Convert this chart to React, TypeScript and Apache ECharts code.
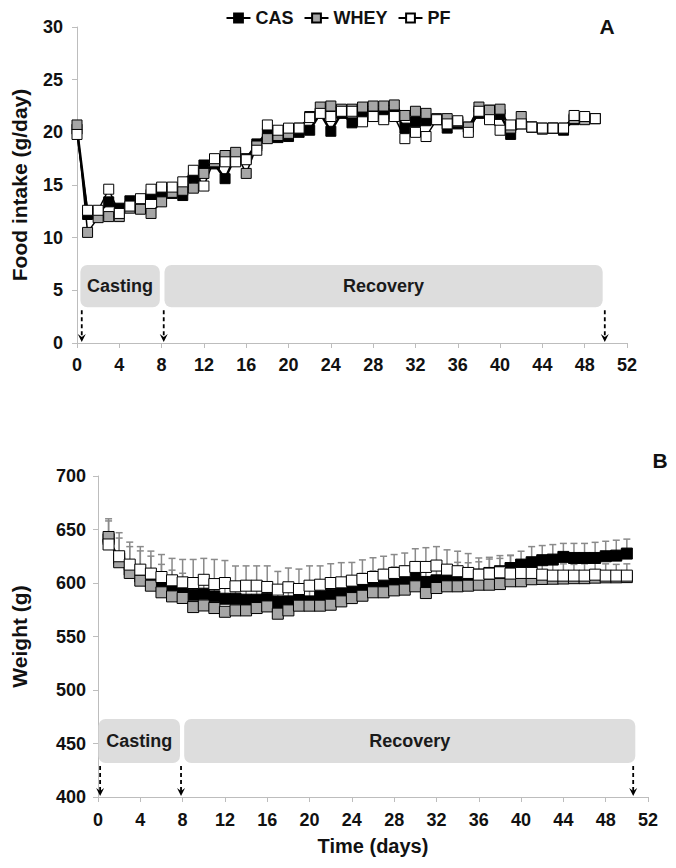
import React, { useEffect, useRef } from 'react';
import * as echarts from 'echarts';

const FONT = '"Liberation Sans", Arial, Helvetica, sans-serif';

// ---------- Panel A: food intake (g/day), days 0..49 ----------
const daysA = [0, 1, 2, 3, 4, 5, 6, 7, 8, 9, 10, 11, 12, 13, 14, 15, 16, 17, 18, 19, 20, 21, 22, 23, 24, 25, 26, 27, 28, 29, 30, 31, 32, 33, 34, 35, 36, 37, 38, 39, 40, 41, 42, 43, 44, 45, 46, 47, 48, 49];
const casA = [20.3, 12.2, 12.3, 13.4, 12.8, 13.5, 13.3, 14.1, 14.1, 14.2,
  14.0, 15.7, 16.9, 17.0, 15.6, 17.8, 17.5, 18.9, 19.9, 19.5,
  19.6, 20.0, 20.2, 21.8, 20.1, 21.8, 20.9, 21.7, 21.8, 21.8,
  21.8, 20.4, 21.0, 21.1, 21.2, 20.4, 20.8, 20.5, 21.8, 22.1,
  21.7, 19.8, 20.8, 20.5, 20.4, 20.4, 20.2, 21.2, 21.3, 21.3];
const wheyA = [20.7, 10.5, 11.9, 12.0, 12.0, 12.8, 12.7, 12.3, 13.4, 14.3,
  14.5, 14.7, 16.1, 17.2, 17.8, 18.1, 16.1, 18.7, 19.4, 19.7,
  19.9, 20.4, 21.5, 22.4, 22.5, 22.2, 22.2, 22.4, 22.5, 22.5,
  22.6, 21.6, 22.0, 21.8, 21.3, 21.3, 21.0, 20.5, 22.4, 22.1,
  22.2, 20.4, 21.5, 20.5, 20.3, 20.4, 20.4, 21.3, 21.2, 21.3];
const pfA = [19.8, 12.6, 12.6, 14.6, 12.3, 13.0, 13.7, 14.6, 14.8, 14.8,
  15.3, 16.4, 14.9, 17.5, 17.2, 17.2, 17.4, 18.3, 20.7, 20.2,
  20.4, 20.4, 21.4, 21.8, 21.5, 22.0, 22.0, 21.0, 21.5, 21.2,
  21.5, 19.4, 20.0, 19.6, 21.2, 20.8, 21.1, 20.0, 22.0, 21.2,
  20.2, 20.7, 20.8, 20.5, 20.4, 20.4, 20.4, 21.6, 21.5, 21.3];

// ---------- Panel B: weight (g), days 1..50 ----------
const daysB = [1, 2, 3, 4, 5, 6, 7, 8, 9, 10, 11, 12, 13, 14, 15, 16, 17, 18, 19, 20, 21, 22, 23, 24, 25, 26, 27, 28, 29, 30, 31, 32, 33, 34, 35, 36, 37, 38, 39, 40, 41, 42, 43, 44, 45, 46, 47, 48, 49, 50];
const casB = [641, 623, 612.5, 606, 601.6, 598.4, 595.3, 593.1, 589, 590,
  587.5, 585.3, 585.3, 584.4, 584.4, 585.3, 582.2, 582.8, 584.4, 582.8,
  587.5, 589, 590.6, 594.4, 596.9, 598.4, 600.6, 603, 604, 606.9,
  601, 602.5, 604.7, 606.3, 606.9, 607.8, 609.4, 611, 614, 617.2,
  619.4, 621.3, 621.9, 624.4, 623.4, 623.4, 623.4, 625, 625.6, 627.5];
const wheyB = [643, 619.4, 609.4, 602.2, 597.5, 591.3, 587.5, 586, 577.5, 579,
  576.6, 573.1, 574.4, 574.4, 576.6, 578.1, 571.3, 574.4, 578.8, 578.8,
  578.8, 579.7, 582.8, 585.9, 588.1, 591.3, 591.3, 593.1, 593.8, 596.9,
  590.6, 595.3, 596.9, 596.9, 597.5, 598.4, 598.4, 599, 601.6, 601.6,
  603.5, 603.8, 604, 604.2, 604.5, 604.5, 605, 605.3, 605.3, 605.5];
const pfB = [636, 625, 617.2, 612.5, 608.8, 605.6, 602.5, 600.6, 600, 603,
  599, 600, 596.9, 597.5, 597.5, 596.3, 593.8, 596, 594.4, 597.5,
  598.4, 600, 600.6, 602.2, 603.8, 605.6, 607.8, 609.4, 611, 615,
  615, 616.3, 612.5, 611, 609.4, 607.8, 608.8, 610, 608.8, 609.4,
  609.4, 607.8, 606.9, 606.9, 606.9, 606.9, 607.8, 606.9, 606.9, 606.9];
const pfSemB = [24, 22, 21, 21.5, 21, 21, 20.5, 21.4, 22, 20,
  23, 21, 19, 18.5, 18.5, 19.7, 17, 18, 18.6, 18.5,
  17.6, 18, 18.4, 17, 17.8, 18, 17.2, 17.2, 17, 17,
  18, 17.7, 18.5, 18.7, 18.1, 15.6, 15.2, 15.6, 16.8, 11,
  11.5, 10.5, 11, 11, 10.5, 11, 11.5, 11, 10.5, 11];
const casSemB = [17, 19, 21.5, 24, 23.5, 19, 16.7, 16, 13, 12,
  12, 13, 12, 12, 13, 12, 12, 12, 13, 12,
  12, 12, 13, 12, 12, 13, 12, 12, 12, 13,
  12, 12, 12, 13, 12, 12, 13, 12, 12, 12.5,
  14.6, 13.7, 14, 12.6, 13.6, 13.6, 14.6, 14, 14.4, 13.5];

// ---------- Phases and arrows ----------
const phaseLabels = ['Casting', 'Recovery'];
const phaseStartA = [0.32, 8.27];
const phaseEndA = [7.83, 49.7];
const phaseStartB = [0.05, 8.15];
const phaseEndB = [7.75, 50.8];
const arrowDaysA = [0.45, 8.2, 49.9];
const arrowDaysB = [0.2, 7.85, 50.6];
const xTicks = [0, 52, 4];

const BOX_A = [3.4, 7.4];
const BOX_B = [431.8, 472.9];

function boxRenderer(params: any, api: any) {
  const a = api.coord([api.value(0), api.value(3)]);
  const b = api.coord([api.value(1), api.value(2)]);
  return {
    type: 'group',
    children: [
      { type: 'rect', shape: { x: a[0], y: a[1], width: b[0] - a[0], height: b[1] - a[1], r: 7 }, style: { fill: '#dddddd' } },
      {
        type: 'text', x: (a[0] + b[0]) / 2, y: (a[1] + b[1]) / 2,
        style: { text: phaseLabels[params.dataIndex], fontSize: 18, fontWeight: 'bold', fontFamily: FONT, fill: '#1a1a1a', align: 'center', verticalAlign: 'middle' },
      },
    ],
  };
}

function arrowRenderer(params: any, api: any) {
  const t = api.coord([api.value(0), api.value(1)]);
  const b = api.coord([api.value(0), api.value(2)]);
  const x = t[0];
  return {
    type: 'group',
    children: [
      { type: 'line', shape: { x1: x, y1: t[1] + 3, x2: x, y2: b[1] - 6 }, style: { stroke: '#000', lineWidth: 1.8, lineDash: [4, 3] } },
      { type: 'polygon', shape: { points: [[x - 4, b[1] - 9], [x, b[1] - 6], [x + 4, b[1] - 9], [x, b[1] - 1]] }, style: { fill: '#000' } },
    ],
  };
}

function errRenderer(params: any, api: any) {
  const p0 = api.coord([api.value(0), api.value(1)]);
  const p1 = api.coord([api.value(0), api.value(2)]);
  return {
    type: 'group',
    children: [
      { type: 'line', shape: { x1: p0[0], y1: p0[1], x2: p1[0], y2: p1[1] }, style: { stroke: '#8a8a8a', lineWidth: 1.5 } },
      { type: 'line', shape: { x1: p1[0] - 3.5, y1: p1[1], x2: p1[0] + 3.5, y2: p1[1] }, style: { stroke: '#8a8a8a', lineWidth: 1.5 } },
    ],
  };
}

const axisStyle = {
  axisLine: { show: true, lineStyle: { color: '#bdbdbd', width: 1 } },
  axisTick: { show: true, length: 5, lineStyle: { color: '#bdbdbd' } },
  splitLine: { show: false },
};
const labelStyle = { color: '#111', fontWeight: 'bold', fontSize: 18, fontFamily: FONT };
const nameStyle = { color: '#111', fontWeight: 'bold', fontSize: 21, fontFamily: FONT };

function lineSeries(name: string, idx: number, xs: number[], ys: number[], fill: string, lw: number, size: number) {
  return {
    type: 'line', name, xAxisIndex: idx, yAxisIndex: idx,
    data: xs.map((d, i) => [d, ys[i]]),
    symbol: 'rect', symbolSize: size, showSymbol: true, clip: false, z: 3,
    lineStyle: { color: '#000', width: lw },
    itemStyle: { color: fill, borderColor: '#000', borderWidth: 1 },
    emphasis: { disabled: true },
  };
}

export default function App() {
  const ref = useRef<HTMLDivElement>(null);
  useEffect(() => {
    document.body.style.margin = '0';
    const chart = echarts.init(ref.current!, null, { renderer: 'svg' });
    const option: any = {
      animation: false,
      backgroundColor: '#ffffff',
      textStyle: { fontFamily: FONT },
      legend: {
        top: 4, left: 'center', itemWidth: 24, itemHeight: 11, itemGap: 10,
        data: ['CAS', 'WHEY', 'PF'],
        textStyle: { fontSize: 18, fontWeight: 'bold', color: '#111', fontFamily: FONT },
      },
      grid: [
        { left: 77, top: 27, width: 550, height: 316 },
        { left: 98, top: 476, width: 550, height: 321 },
      ],
      xAxis: [
        { type: 'value', gridIndex: 0, min: xTicks[0], max: xTicks[1], interval: xTicks[2], ...axisStyle, axisLabel: { ...labelStyle, margin: 13 } },
        {
          type: 'value', gridIndex: 1, min: xTicks[0], max: xTicks[1], interval: xTicks[2], ...axisStyle,
          axisLabel: { ...labelStyle, margin: 14 },
          name: 'Time (days)', nameLocation: 'middle', nameGap: 39, nameTextStyle: { ...nameStyle, fontSize: 20 },
        },
      ],
      yAxis: [
        {
          type: 'value', gridIndex: 0, min: 0, max: 30, interval: 5, ...axisStyle,
          axisLabel: { ...labelStyle, margin: 14 },
          name: 'Food intake (g/day)', nameLocation: 'middle', nameGap: 47, nameRotate: 90, nameTextStyle: nameStyle,
        },
        {
          type: 'value', gridIndex: 1, min: 400, max: 700, interval: 50, ...axisStyle,
          axisLabel: { ...labelStyle, margin: 12 },
          name: 'Weight (g)', nameLocation: 'middle', nameGap: 68, nameRotate: 90, nameTextStyle: nameStyle,
        },
      ],
      graphic: [
        { type: 'text', x: 607, y: 26, style: { text: 'A', fontSize: 21, fontWeight: 'bold', fontFamily: FONT, fill: '#111', align: 'center', verticalAlign: 'middle' } },
        { type: 'text', x: 660, y: 460, style: { text: 'B', fontSize: 21, fontWeight: 'bold', fontFamily: FONT, fill: '#111', align: 'center', verticalAlign: 'middle' } },
      ],
      series: [
        { type: 'custom', xAxisIndex: 0, yAxisIndex: 0, z: 1, silent: true, renderItem: boxRenderer, data: phaseStartA.map((s, i) => [s, phaseEndA[i], BOX_A[0], BOX_A[1]]) },
        { type: 'custom', xAxisIndex: 0, yAxisIndex: 0, z: 1, silent: true, renderItem: arrowRenderer, data: arrowDaysA.map((d) => [d, BOX_A[0], 0]) },
        { type: 'custom', xAxisIndex: 1, yAxisIndex: 1, z: 1, silent: true, renderItem: boxRenderer, data: phaseStartB.map((s, i) => [s, phaseEndB[i], BOX_B[0], BOX_B[1]]) },
        { type: 'custom', xAxisIndex: 1, yAxisIndex: 1, z: 1, silent: true, renderItem: arrowRenderer, data: arrowDaysB.map((d) => [d, BOX_B[0], 400]) },
        { type: 'custom', xAxisIndex: 1, yAxisIndex: 1, z: 1, silent: true, renderItem: errRenderer, data: daysB.map((d, i) => [d, casB[i], casB[i] + casSemB[i]]) },
        { type: 'custom', xAxisIndex: 1, yAxisIndex: 1, z: 1, silent: true, renderItem: errRenderer, data: daysB.map((d, i) => [d, pfB[i], pfB[i] + pfSemB[i]]) },
        lineSeries('CAS', 0, daysA, casA, '#000000', 2.5, 10),
        lineSeries('WHEY', 0, daysA, wheyA, '#a6a6a6', 1.5, 10),
        lineSeries('PF', 0, daysA, pfA, '#ffffff', 1.5, 10),
        lineSeries('CAS', 1, daysB, casB, '#000000', 2, 11),
        lineSeries('WHEY', 1, daysB, wheyB, '#a6a6a6', 1.2, 11),
        lineSeries('PF', 1, daysB, pfB, '#ffffff', 1.2, 11),
      ],
    };
    chart.setOption(option);
    return () => chart.dispose();
  }, []);
  return <div ref={ref} style={{ width: 676, height: 868 }} />;
}
